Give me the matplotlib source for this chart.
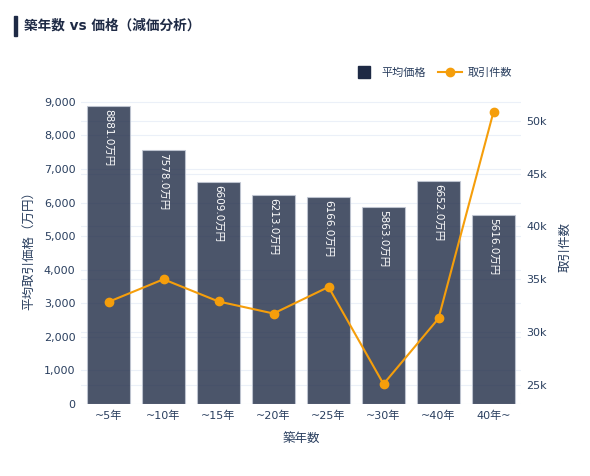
import matplotlib
matplotlib.use("Agg")
import matplotlib.pyplot as plt
import matplotlib.transforms as mtransforms
from matplotlib.lines import Line2D
from matplotlib.ticker import FuncFormatter, MultipleLocator

plt.rcParams['font.family'] = ['DejaVu Sans', 'Noto Sans CJK JP']

# data
categories = ["~5年", "~10年", "~15年", "~20年", "~25年", "~30年", "~40年", "40年~"]
avg_price = [8881.0, 7578.0, 6609.0, 6213.0, 6166.0, 5863.0, 6652.0, 5616.0]
deal_count = [32860, 35000, 32900, 31760, 34270, 25090, 31290, 50840]

BAR_COLOR = "#1e2a45"
LINE_COLOR = "#f59e0b"
TEXT_COLOR = "#2a3f5f"
GRID_COLOR = "#ebf0f8"

fig = plt.figure(figsize=(5.9, 4.76), dpi=100)
ax = fig.add_axes([81 / 590, 1 - 404 / 476, 440 / 590, 313 / 476])
ax2 = ax.twinx()

x = list(range(len(categories)))
bars = ax.bar(x, avg_price, width=0.79, color=BAR_COLOR, alpha=0.8,
              edgecolor="#c4cad6", linewidth=0.8, zorder=2)

# labels inside the bars, top, reading downward
for xi, v in zip(x, avg_price):
    ax.text(xi, v, f"{v:.1f}万円", rotation=270, ha="center", va="top",
            color="white", fontsize=7.5, zorder=4,
            transform=ax.transData + mtransforms.ScaledTranslation(0, -3 / 100, fig.dpi_scale_trans))

ax.set_xlim(-0.5, len(categories) - 0.5)
ax.set_ylim(0, 9325)
ax.yaxis.set_major_locator(MultipleLocator(1000))
ax.yaxis.set_major_formatter(FuncFormatter(lambda v, p: f"{int(v):,}"))
ax.set_xticks(x)
ax.set_xticklabels(categories)

ax2.set_ylim(23200, 52810)
ax2.yaxis.set_major_locator(MultipleLocator(5000))
ax2.yaxis.set_major_formatter(FuncFormatter(lambda v, p: f"{int(v / 1000)}k"))
ax2.plot(x, deal_count, color=LINE_COLOR, linewidth=1.5, marker="o", markersize=6, zorder=3)

# gridlines under the bars
ax.grid(axis="y", color=GRID_COLOR, linewidth=0.8, zorder=0)
ax.set_axisbelow(True)
blend = mtransforms.blended_transform_factory(ax.transAxes, ax2.transData)
for t in range(25000, 52000, 5000):
    ax.plot([0, 1], [t, t], transform=blend, color=GRID_COLOR, linewidth=0.8, zorder=0)

for a in (ax, ax2):
    for s in a.spines.values():
        s.set_visible(False)
    a.tick_params(length=0, colors=TEXT_COLOR, labelsize=8)
ax.tick_params(axis="y", pad=4)
ax.tick_params(axis="x", pad=5)
ax2.tick_params(axis="y", pad=4)

ax.set_xlabel("築年数", color=TEXT_COLOR, fontsize=9, labelpad=8)
ax.set_ylabel("平均取引価格（万円）", color=TEXT_COLOR, fontsize=9, labelpad=6)
ax2.set_ylabel("取引件数", color=TEXT_COLOR, fontsize=9, labelpad=8)

# legend
handles = [
    Line2D([], [], linestyle="none", marker="s", markersize=8, color=BAR_COLOR),
    Line2D([], [], color=LINE_COLOR, linewidth=1.5, marker="o", markersize=6),
]
fig.legend(handles, ["平均価格", "取引件数"], loc="center right",
           bbox_to_anchor=(522 / 590, 1 - 73 / 476), ncol=2, frameon=False,
           fontsize=8, labelcolor=TEXT_COLOR, handlelength=2.2, columnspacing=1.0,
           handletextpad=0.5)

# title with left accent bar
fig.patches.append(plt.Rectangle((14 / 590, 1 - 36 / 476), 2.5 / 590, 20 / 476,
                                 transform=fig.transFigure, color=BAR_COLOR))
fig.text(24 / 590, 1 - 26 / 476, "築年数 vs 価格（減価分析）", fontsize=9.8,
         fontweight="bold", color="#1e2a45", va="center", ha="left")

fig.savefig("out.png", dpi=100)
